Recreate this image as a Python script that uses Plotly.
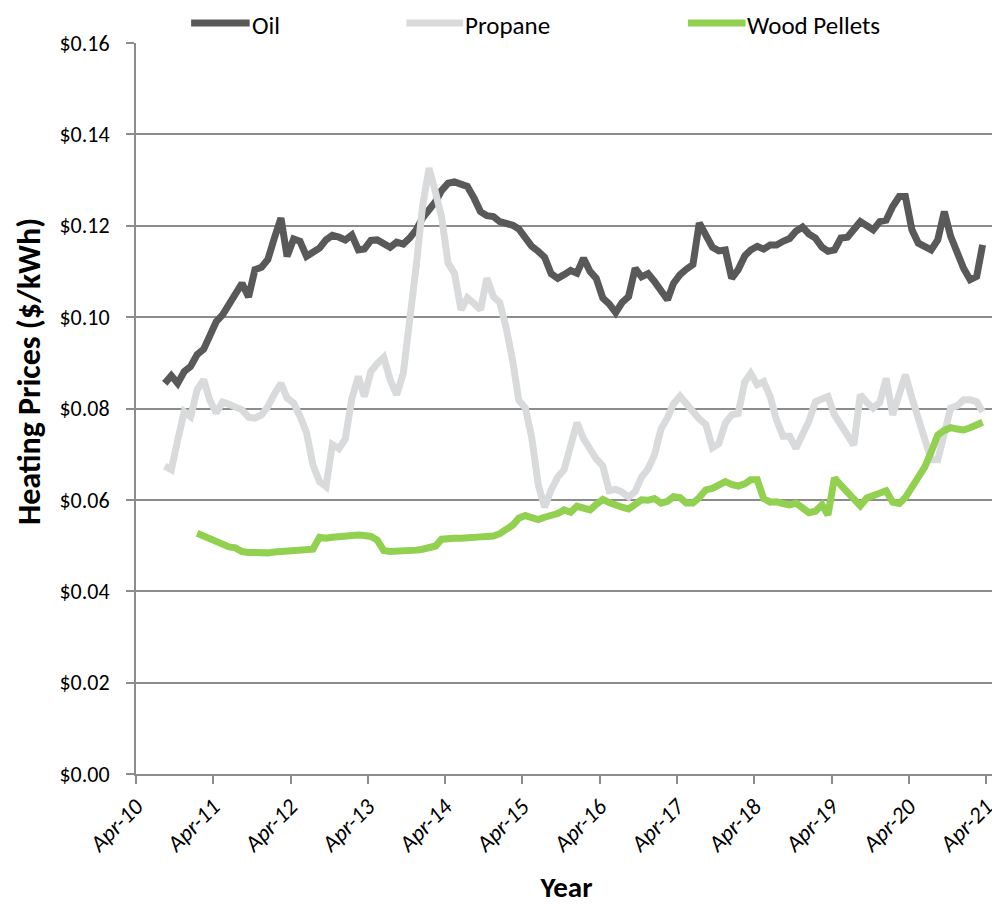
import pandas as pd
import plotly.graph_objects as go

# Monthly series, Aug-2010 .. Mar-2021 ($/kWh)
oil = [
    0.0855, 0.0872, 0.0855, 0.0881, 0.0892, 0.0918, 0.0930, 0.0961, 0.0990, 0.1005,
    0.1027, 0.1051, 0.1074, 0.1044, 0.1104, 0.1109, 0.1126, 0.1173, 0.1217, 0.1133,
    0.1171, 0.1166, 0.1133, 0.1142, 0.1151, 0.1169, 0.1179, 0.1175, 0.1169, 0.1180,
    0.1147, 0.1149, 0.1168, 0.1169, 0.1161, 0.1153, 0.1164, 0.1160, 0.1173, 0.1191,
    0.1217, 0.1235, 0.1253, 0.1277, 0.1293, 0.1296, 0.1292, 0.1286, 0.1261, 0.1231,
    0.1222, 0.1220, 0.1209, 0.1206, 0.1201, 0.1193, 0.1175, 0.1155, 0.1144, 0.1131,
    0.1095, 0.1085, 0.1093, 0.1102, 0.1096, 0.1129, 0.1100, 0.1085, 0.1042, 0.1029,
    0.1010, 0.1032, 0.1045, 0.1107, 0.1088, 0.1095, 0.1078, 0.1060, 0.1038, 0.1074,
    0.1093, 0.1105, 0.1115, 0.1206, 0.1175, 0.1153, 0.1145, 0.1147, 0.1085, 0.1104,
    0.1134, 0.1147, 0.1155, 0.1149, 0.1158, 0.1158, 0.1166, 0.1172, 0.1188, 0.1197,
    0.1182, 0.1173, 0.1153, 0.1144, 0.1147, 0.1173, 0.1175, 0.1191, 0.1209, 0.1200,
    0.1191, 0.1209, 0.1212, 0.1242, 0.1264, 0.1264, 0.1191, 0.1162, 0.1153, 0.1147,
    0.1169, 0.1231, 0.1177, 0.1136, 0.1107, 0.1082, 0.1089, 0.1158,
]
propane = [
    0.0674, 0.0666, 0.0731, 0.0793, 0.0782, 0.0841, 0.0863, 0.0819, 0.0790, 0.0814,
    0.0809, 0.0803, 0.0797, 0.0781, 0.0779, 0.0786, 0.0804, 0.0832, 0.0855, 0.0823,
    0.0812, 0.0783, 0.0747, 0.0677, 0.0640, 0.0629, 0.0721, 0.0712, 0.0733, 0.0822,
    0.0870, 0.0826, 0.0881, 0.0898, 0.0912, 0.0863, 0.0830, 0.0877, 0.0980, 0.1111,
    0.1242, 0.1326, 0.1272, 0.1220, 0.1118, 0.1096, 0.1016, 0.1042, 0.1030, 0.1016,
    0.1085, 0.1045, 0.1032, 0.0975, 0.0902, 0.0818, 0.0801, 0.0737, 0.0633, 0.0584,
    0.0622, 0.0650, 0.0666, 0.0720, 0.0769, 0.0734, 0.0708, 0.0690, 0.0674, 0.0620,
    0.0623, 0.0617, 0.0606, 0.0618, 0.0650, 0.0668, 0.0698, 0.0755, 0.0780, 0.0810,
    0.0827, 0.0810, 0.0790, 0.0777, 0.0765, 0.0714, 0.0723, 0.0768, 0.0786, 0.0789,
    0.0858, 0.0877, 0.0852, 0.0859, 0.0826, 0.0775, 0.0739, 0.0739, 0.0713, 0.0742,
    0.0772, 0.0815, 0.0823, 0.0826, 0.0786, 0.0761, 0.0742, 0.0720, 0.0830, 0.0813,
    0.0801, 0.0813, 0.0866, 0.0786, 0.0834, 0.0874, 0.0823, 0.0779, 0.0731, 0.0688,
    0.0688, 0.0746, 0.0801, 0.0806, 0.0819, 0.0819, 0.0815, 0.0793,
]
# Wood pellets, Jan-2011 .. Mar-2021
wood = [
    0.0527, 0.0520, 0.0514, 0.0508, 0.0503, 0.0497, 0.0495, 0.0487, 0.0485, 0.0484,
    0.0483, 0.0484, 0.0486, 0.0487, 0.0488, 0.0489, 0.0489, 0.0490, 0.0492, 0.0518,
    0.0516, 0.0518, 0.0520, 0.0520, 0.0522, 0.0523, 0.0522, 0.0520, 0.0512, 0.0489,
    0.0487, 0.0487, 0.0487, 0.0488, 0.0490, 0.0492, 0.0494, 0.0499, 0.0514, 0.0516,
    0.0516, 0.0516, 0.0516, 0.0517, 0.0519, 0.0520, 0.0521, 0.0526, 0.0536, 0.0545,
    0.0560, 0.0566, 0.0561, 0.0557, 0.0562, 0.0566, 0.0570, 0.0578, 0.0573, 0.0586,
    0.0582, 0.0578, 0.0590, 0.0601, 0.0594, 0.0587, 0.0584, 0.0580, 0.0588, 0.0600,
    0.0599, 0.0603, 0.0593, 0.0597, 0.0607, 0.0605, 0.0593, 0.0593, 0.0605, 0.0622,
    0.0625, 0.0632, 0.0640, 0.0634, 0.0630, 0.0635, 0.0644, 0.0644, 0.0603, 0.0595,
    0.0596, 0.0592, 0.0589, 0.0593, 0.0580, 0.0572, 0.0575, 0.0589, 0.0567, 0.0648,
    0.0632, 0.0618, 0.0600, 0.0587, 0.0604, 0.0610, 0.0613, 0.0620, 0.0595, 0.0592,
    0.0605, 0.0626, 0.0652, 0.0672, 0.0705, 0.0742, 0.0752, 0.0758, 0.0755, 0.0753,
    0.0758, 0.0764, 0.0770,
]

series_names = ["Oil", "Propane", "Wood Pellets"]
series_colors = ["#595959", "#D9DADB", "#92D050"]

dates = pd.date_range("2010-08-01", periods=len(oil), freq="MS") + pd.Timedelta(days=14)
wood_dates = dates[len(oil) - len(wood):]

tick_years = list(range(2010, 2022))
tick_vals = [f"{y}-04-01" for y in tick_years]
tick_text = [f"Apr-{y % 100:02d}" for y in tick_years]

FONT = "Carlito, Lato, sans-serif"
GRID = "#8C8C8C"

fig = go.Figure()
for name, xs, ys, col in zip(series_names, [dates, dates, wood_dates],
                             [oil, propane, wood], series_colors):
    fig.add_trace(go.Scatter(x=xs, y=ys, mode="lines", name=name,
                             line=dict(color=col, width=7), showlegend=False))

# Custom legend (matches reference sample length); text boxes kept inside the page
legend_pos = [(0.064, 0.132), (0.314, 0.380), (0.641, 0.708)]
for (x0, x1), name, col in zip(legend_pos, series_names, series_colors):
    fig.add_shape(type="line", xref="paper", yref="paper", x0=x0, x1=x1,
                  y0=1.0274, y1=1.0274, line=dict(color=col, width=7))
    fig.add_annotation(xref="paper", yref="paper", x=x1 + 0.001, y=1.0465,
                       text=name, showarrow=False, xanchor="left", yanchor="top",
                       borderpad=0,
                       font=dict(size=25, color="#000000", family=FONT))

# Y axis title
fig.add_annotation(xref="paper", yref="paper", x=-0.123, y=0.55,
                   text="<b>Heating Prices ($/kWh)</b>", textangle=-90,
                   showarrow=False, xanchor="center", yanchor="middle",
                   font=dict(size=32, color="#000000", family=FONT))

# page body adds an 8px offset; size figure so the plot lands where the reference has it
fig.update_layout(
    width=992, height=897,
    margin=dict(l=128, r=3, t=35, b=131),
    paper_bgcolor="white", plot_bgcolor="white",
    font=dict(family=FONT, size=20, color="#000000"),
    xaxis=dict(
        type="date", range=["2010-04-01", "2021-05-22"], automargin=False,
        tickmode="array", tickvals=tick_vals, ticktext=tick_text,
        tickangle=-45, ticks="outside", ticklen=8, tickcolor=GRID, tickwidth=2,
        showline=True, linecolor=GRID, linewidth=2, showgrid=False, zeroline=False,
        tickfont=dict(size=23, style="italic"),
        title=dict(text="<b>Year</b>", font=dict(size=29), standoff=30),
    ),
    yaxis=dict(
        range=[0, 0.16], dtick=0.02, tick0=0, tickformat="$.2f", automargin=False,
        ticks="outside", ticklen=8, tickcolor=GRID, tickwidth=2,
        showline=True, linecolor=GRID, linewidth=2,
        showgrid=True, gridcolor=GRID, gridwidth=2, zeroline=False,
        tickfont=dict(size=22), ticklabelstandoff=12,
    ),
)

fig.write_html("out.html")
